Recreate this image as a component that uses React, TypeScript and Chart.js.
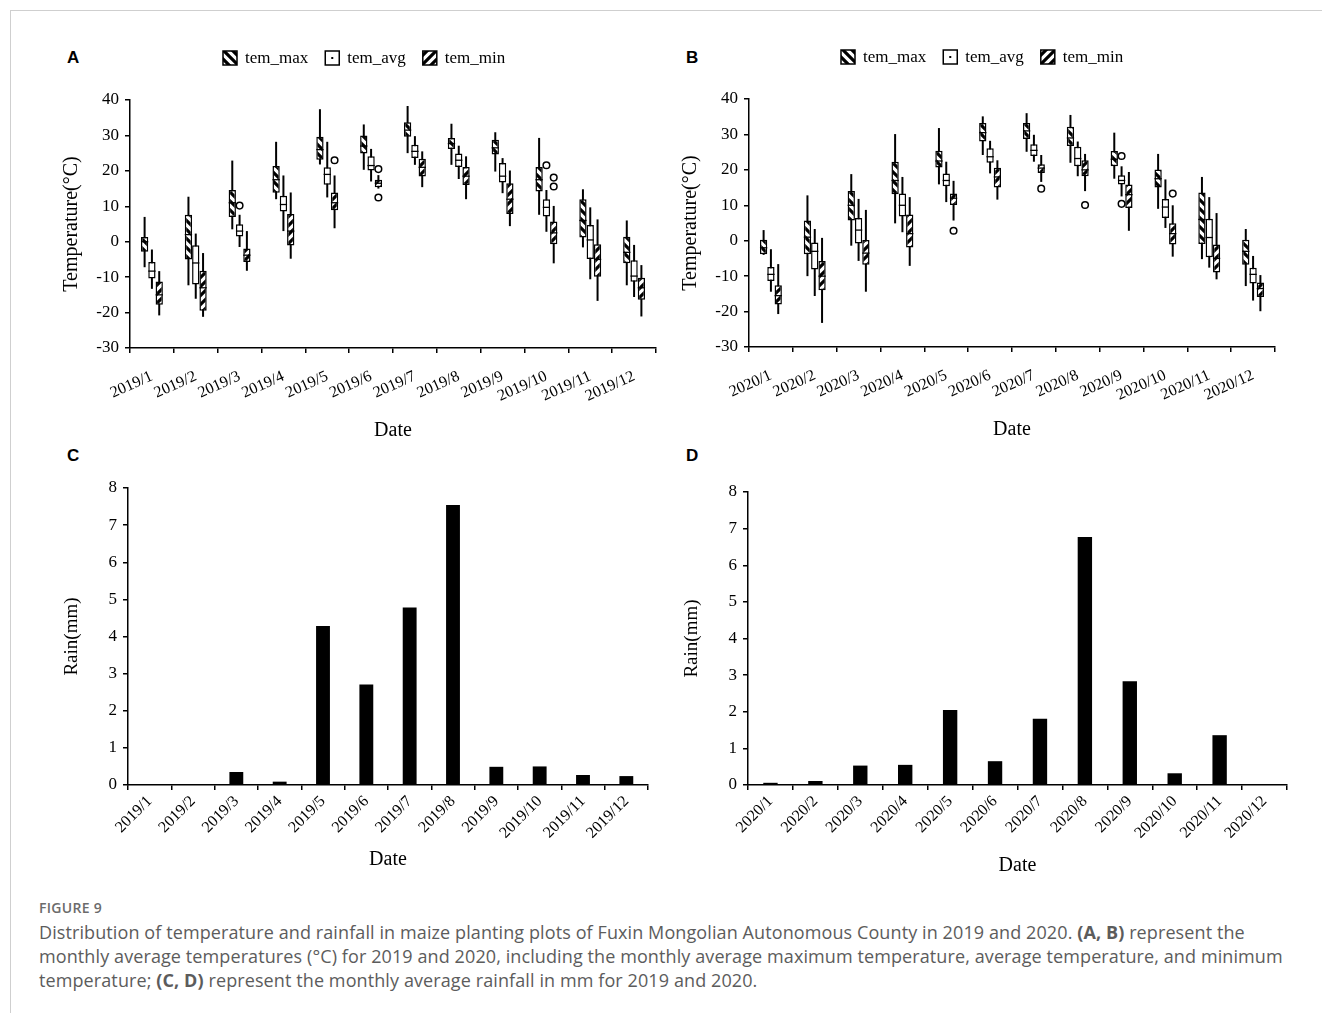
import React, { useEffect, useRef } from 'react';
import { Chart, registerables } from 'chart.js';

Chart.register(...registerables);

// ---------------- DATA ----------------
type Stat = [number, number, number, number, number]; // [whiskerLow, q1, median, q3, whiskerHigh]
type Outlier = [number, number]; // [monthIndex, value]

const months2019 = ['2019/1', '2019/2', '2019/3', '2019/4', '2019/5', '2019/6', '2019/7', '2019/8', '2019/9', '2019/10', '2019/11', '2019/12'];
const months2020 = ['2020/1', '2020/2', '2020/3', '2020/4', '2020/5', '2020/6', '2020/7', '2020/8', '2020/9', '2020/10', '2020/11', '2020/12'];
const seriesNames = ['tem_max', 'tem_avg', 'tem_min'];

const tmax2019: Stat[] = [
  [-7.2, -2.8, 0, 1.3, 7.0], [-12.3, -5.0, 2, 7.6, 12.7], [3.5, 7.0, 11, 14.6, 22.9], [12.0, 13.8, 17.5, 21.4, 28.2],
  [21.8, 23.1, 26, 29.6, 37.4], [20.3, 24.9, 27, 30.0, 33.1], [25.0, 29.6, 31.5, 33.7, 38.3], [21.7, 26.2, 27.7, 29.3, 33.3],
  [19.8, 24.6, 26.5, 28.8, 30.9], [7.6, 14.2, 17.5, 21.1, 29.3], [-1.6, 1.2, 6, 12.0, 14.8], [-12.3, -6.1, -3, 1.4, 6.0],
];
const tavg2019: Stat[] = [
  [-13.3, -10.4, -8.3, -5.7, -2.2], [-16.1, -12.1, -6, -1.0, 2.3], [-1.5, 1.5, 3, 4.9, 7.6], [3.0, 8.5, 10.5, 13.0, 18.7],
  [12.5, 16.1, 19, 21.0, 28.2], [17.0, 20.1, 21.5, 24.1, 26.2], [21.7, 23.6, 25.5, 27.4, 29.8], [17.7, 21.1, 23, 24.9, 27.1],
  [13.7, 16.7, 18.5, 22.2, 23.6], [2.8, 7.1, 9.7, 12.0, 14.6], [-10.6, -4.9, 0.5, 4.7, 9.7], [-15.6, -11.3, -9.7, -5.2, -0.9],
];
const tmin2019: Stat[] = [
  [-20.8, -17.8, -15, -11.2, -8.3], [-21.2, -19.5, -13, -8.2, -3.2], [-8.2, -5.7, -3.8, -1.9, 3.0], [-4.8, -1.1, 3, 7.8, 13.9],
  [3.8, 8.9, 11, 13.9, 18.7], [15.0, 15.4, 16.5, 17.5, 18.8], [15.4, 18.4, 21, 23.4, 25.5], [12.0, 16.0, 18.5, 21.1, 24.1],
  [4.4, 7.8, 12, 16.5, 20.1], [-6.1, -0.7, 2.5, 5.7, 10.1], [-16.7, -9.9, -5, -0.7, 6.3], [-21.1, -16.4, -13, -10.2, -6.6],
];
const outMax2019: Outlier[] = [];
const outAvg2019: Outlier[] = [[2, 10.2], [9, 21.6]];
const outMin2019: Outlier[] = [[4, 23.0], [5, 20.5], [5, 12.5], [9, 18.1], [9, 15.6]];

const tmax2020: Stat[] = [
  [-4.0, -3.8, -2, 0.3, 3.0], [-10.0, -3.8, 1, 5.7, 12.8], [-1.4, 5.7, 10, 14.0, 18.8], [4.9, 13.1, 17, 22.3, 30.1],
  [15.9, 20.7, 22.5, 25.4, 31.8], [24.2, 28.0, 30.5, 33.2, 35.1], [25.1, 28.7, 31, 33.2, 36.0], [22.0, 26.7, 29, 32.2, 35.5],
  [17.5, 21.0, 23, 25.3, 30.5], [9.0, 15.0, 17.5, 20.1, 24.5], [-5.2, -0.9, 6, 13.6, 18.0], [-12.8, -6.8, -3, 0.3, 3.3],
];
const tavg2020: Stat[] = [
  [-14.4, -11.4, -9.5, -7.4, -2.4], [-15.6, -8.1, -3, -0.5, 3.3], [-5.7, -0.8, 3, 6.4, 11.8], [2.4, 6.8, 10, 13.3, 18.0],
  [10.9, 15.4, 17, 19.0, 22.3], [19.0, 22.0, 23.7, 26.1, 28.2], [22.3, 23.9, 25.5, 27.2, 29.9], [18.2, 21.0, 23.2, 26.5, 28.0],
  [12.5, 15.9, 17, 18.5, 21.0], [3.6, 6.4, 9.5, 11.8, 17.3], [-7.6, -4.7, 0.9, 6.2, 12.3], [-16.9, -12.1, -9.5, -7.6, -4.3],
];
const tmin2020: Stat[] = [
  [-20.7, -18.0, -15.5, -12.6, -6.6], [-23.2, -14.0, -10, -5.7, 0.8], [-14.4, -6.8, -3.5, 0.2, 8.7], [-7.1, -1.9, 2, 7.4, 12.3],
  [5.7, 10.1, 12, 13.3, 16.9], [11.6, 15.0, 18, 20.6, 22.7], [16.6, 19.1, 20.5, 21.6, 24.2], [14.0, 18.2, 20, 22.7, 24.5],
  [2.8, 9.2, 13, 15.9, 19.4], [-4.5, -1.1, 2, 4.9, 10.0], [-10.9, -9.0, -5, -1.1, 7.8], [-19.9, -15.9, -13.5, -11.8, -9.7],
];
const outMax2020: Outlier[] = [];
const outAvg2020: Outlier[] = [[8, 23.9], [8, 10.4]];
const outMin2020: Outlier[] = [[4, 2.8], [6, 14.7], [7, 10.1], [9, 13.3]];

const rain2019 = [0, 0, 0.35, 0.09, 4.28, 2.71, 4.78, 7.54, 0.49, 0.5, 0.27, 0.24];
const rain2020 = [0.06, 0.11, 0.53, 0.55, 2.05, 0.65, 1.81, 6.77, 2.83, 0.32, 1.36, 0];

const tempTickRange = { min: -30, max: 40, step: 10 };
const rainTickRange = { min: 0, max: 8, step: 1 };

// ---------------- STYLE HELPERS ----------------
const SERIF = '"Liberation Serif", "Times New Roman", serif';

function makePattern(kind: 'back' | 'fwd' | 'none'): CanvasPattern | string {
  if (kind === 'none') return '#ffffff';
  const s = 9;
  const c = document.createElement('canvas');
  c.width = s;
  c.height = s;
  const g = c.getContext('2d')!;
  g.fillStyle = '#fff';
  g.fillRect(0, 0, s, s);
  g.strokeStyle = '#000';
  g.lineWidth = 3.2;
  g.beginPath();
  if (kind === 'back') {
    for (let k = -1; k <= 1; k++) {
      g.moveTo(-2 + k * s, -2);
      g.lineTo(s + 2 + k * s, s + 2);
    }
  } else {
    for (let k = -1; k <= 1; k++) {
      g.moveTo(-2 + k * s, s + 2);
      g.lineTo(s + 2 + k * s, -2);
    }
  }
  g.stroke();
  return g.createPattern(c, 'repeat')!;
}

const boxPlugin = {
  id: 'boxExtras',
  beforeDatasetsDraw(chart: any) {
    const ctx = chart.ctx;
    const y = chart.scales.y;
    ctx.save();
    ctx.strokeStyle = '#000';
    ctx.lineWidth = 2;
    chart.data.datasets.forEach((ds: any, i: number) => {
      if (!ds.stats) return;
      const meta = chart.getDatasetMeta(i);
      ds.stats.forEach((st: Stat, j: number) => {
        const el = meta.data[j];
        if (!el) return;
        ctx.beginPath();
        ctx.moveTo(el.x, y.getPixelForValue(st[0]));
        ctx.lineTo(el.x, y.getPixelForValue(st[4]));
        ctx.stroke();
      });
    });
    ctx.restore();
  },
  afterDatasetsDraw(chart: any) {
    const ctx = chart.ctx;
    const y = chart.scales.y;
    ctx.save();
    chart.data.datasets.forEach((ds: any, i: number) => {
      if (!ds.stats) return;
      const meta = chart.getDatasetMeta(i);
      ds.stats.forEach((st: Stat, j: number) => {
        const el = meta.data[j];
        if (!el) return;
        const py = y.getPixelForValue(st[2]);
        ctx.strokeStyle = '#000';
        ctx.lineWidth = 1.3;
        ctx.beginPath();
        ctx.moveTo(el.x - el.width / 2, py);
        ctx.lineTo(el.x + el.width / 2, py);
        ctx.stroke();
      });
      (ds.outliers || []).forEach((o: Outlier) => {
        const el = meta.data[o[0]];
        if (!el) return;
        ctx.beginPath();
        ctx.arc(el.x, y.getPixelForValue(o[1]), 3.3, 0, Math.PI * 2);
        ctx.fillStyle = '#fff';
        ctx.fill();
        ctx.strokeStyle = '#000';
        ctx.lineWidth = 1.5;
        ctx.stroke();
      });
    });
    ctx.restore();
  },
};

const legendPlugin = {
  id: 'boxLegend',
  afterDraw(chart: any, _args: any, opts: any) {
    if (!opts || !opts.show) return;
    const ctx = chart.ctx;
    let x = chart.chartArea.left + opts.offsetX;
    const yc = chart.chartArea.top + opts.offsetY;
    ctx.save();
    ctx.font = `17px ${SERIF}`;
    ctx.textBaseline = 'middle';
    ctx.textAlign = 'left';
    chart.data.datasets.forEach((ds: any, i: number) => {
      const sz = 14;
      ctx.fillStyle = ds.backgroundColor;
      ctx.fillRect(x, yc - sz / 2, sz, sz);
      ctx.strokeStyle = '#000';
      ctx.lineWidth = 1.5;
      ctx.strokeRect(x, yc - sz / 2, sz, sz);
      if (i === 1) {
        ctx.fillStyle = '#000';
        ctx.fillRect(x + sz / 2 - 1, yc - 1, 2, 2);
      }
      ctx.fillStyle = '#000';
      ctx.fillText(ds.label, x + 22, yc + 1);
      x += 22 + ctx.measureText(ds.label).width + 17;
    });
    ctx.restore();
  },
};

function axisCommon(fontSize: number) {
  return {
    grid: { display: true, drawOnChartArea: false, drawTicks: true, tickLength: 5, color: '#000', lineWidth: 1.5 },
    border: { display: true, color: '#000', width: 1.5 },
    ticks: { color: '#000', font: { family: SERIF, size: fontSize } },
  };
}

function tempConfig(labels: string[], stats: Stat[][], outs: Outlier[][], legendOffsetX: number): any {
  const fills = [makePattern('back'), makePattern('none'), makePattern('fwd')];
  const xc = axisCommon(16);
  const yc = axisCommon(17);
  return {
    type: 'bar',
    data: {
      labels,
      datasets: seriesNames.map((name, i) => ({
        label: name,
        data: stats[i].map((s) => [s[1], s[3]]),
        stats: stats[i],
        outliers: outs[i],
        backgroundColor: fills[i],
        borderColor: '#000',
        borderWidth: 1.5,
        borderSkipped: false,
        categoryPercentage: 0.5,
        barPercentage: 1,
      })),
    },
    plugins: [boxPlugin, legendPlugin],
    options: {
      animation: false,
      responsive: false,
      maintainAspectRatio: false,
      devicePixelRatio: 1,
      layout: { padding: { top: 60, right: 24, left: 0, bottom: 0 } },
      plugins: {
        legend: { display: false },
        tooltip: { enabled: false },
        boxLegend: { show: true, offsetX: legendOffsetX, offsetY: -42 },
      },
      scales: {
        x: {
          type: 'category',
          ...xc,
          grid: { ...xc.grid, offset: true },
          ticks: { ...xc.ticks, minRotation: 24, maxRotation: 24, autoSkip: false, padding: 14 },
          title: { display: true, text: 'Date', color: '#000', font: { family: SERIF, size: 20 }, padding: { top: 4, bottom: 4 } },
          afterFit: (s: any) => { s.height = 99; },
        },
        y: {
          type: 'linear',
          min: tempTickRange.min,
          max: tempTickRange.max,
          ...yc,
          ticks: { ...yc.ticks, stepSize: tempTickRange.step, padding: 6 },
          title: { display: true, text: 'Temperature(°C)', color: '#000', font: { family: SERIF, size: 20 }, padding: { top: 0, bottom: 0 } },
          afterFit: (s: any) => { s.width = 70; },
        },
      },
    },
  };
}

function rainConfig(labels: string[], values: number[], xHeight: number): any {
  const xc = axisCommon(16);
  const yc = axisCommon(17);
  return {
    type: 'bar',
    data: {
      labels,
      datasets: [{
        label: 'Rain',
        data: values,
        backgroundColor: '#000',
        borderWidth: 0,
        categoryPercentage: 1,
        barPercentage: 0.32,
      }],
    },
    options: {
      animation: false,
      responsive: false,
      maintainAspectRatio: false,
      devicePixelRatio: 1,
      layout: { padding: { top: 60, right: 24, left: 0, bottom: 0 } },
      plugins: { legend: { display: false }, tooltip: { enabled: false } },
      scales: {
        x: {
          type: 'category',
          ...xc,
          grid: { ...xc.grid, offset: true },
          ticks: { ...xc.ticks, minRotation: 45, maxRotation: 45, autoSkip: false, padding: 2 },
          title: { display: true, text: 'Date', color: '#000', font: { family: SERIF, size: 20 }, padding: { top: 4, bottom: 4 } },
          afterFit: (s: any) => { s.height = xHeight; },
        },
        y: {
          type: 'linear',
          min: rainTickRange.min,
          max: rainTickRange.max,
          ...yc,
          ticks: { ...yc.ticks, stepSize: rainTickRange.step, padding: 6 },
          title: { display: true, text: 'Rain(mm)', color: '#000', font: { family: SERIF, size: 19 }, padding: { top: 3, bottom: 0 } },
          afterFit: (s: any) => { s.width = 70; },
        },
      },
    },
  };
}

function ChartBox(props: { left: number; top: number; width: number; height: number; build: () => any }) {
  const ref = useRef<HTMLCanvasElement>(null);
  useEffect(() => {
    const chart = new Chart(ref.current!, props.build());
    return () => chart.destroy();
  }, []);
  return (
    <canvas
      ref={ref}
      width={props.width}
      height={props.height}
      style={{ position: 'absolute', left: props.left, top: props.top, width: props.width, height: props.height }}
    />
  );
}

const letterStyle: React.CSSProperties = {
  position: 'absolute',
  fontFamily: '"Liberation Sans", Arial, sans-serif',
  fontWeight: 'bold',
  fontSize: 17,
  lineHeight: '17px',
  color: '#000',
};

export default function App() {
  return (
    <div style={{ position: 'absolute', left: 0, top: 0, width: 1322, height: 1013, overflow: 'hidden', background: '#fff' }}>
      <div style={{ position: 'absolute', left: 10, top: 10, width: 1400, height: 1100, borderTop: '1px solid #cfcfcf', borderLeft: '1px solid #cfcfcf' }} />
      <div style={{ ...letterStyle, left: 67, top: 49 }}>A</div>
      <div style={{ ...letterStyle, left: 686, top: 49 }}>B</div>
      <div style={{ ...letterStyle, left: 67, top: 447 }}>C</div>
      <div style={{ ...letterStyle, left: 686, top: 447 }}>D</div>

      <ChartBox left={60} top={40} width={620} height={407}
        build={() => tempConfig(months2019, [tmax2019, tavg2019, tmin2019], [outMax2019, outAvg2019, outMin2019], 93)} />
      <ChartBox left={679} top={39} width={620} height={407}
        build={() => tempConfig(months2020, [tmax2020, tavg2020, tmin2020], [outMax2020, outAvg2020, outMin2020], 92)} />
      <ChartBox left={58} top={428} width={614} height={448}
        build={() => rainConfig(months2019, rain2019, 91)} />
      <ChartBox left={678} top={432} width={633} height={450}
        build={() => rainConfig(months2020, rain2020, 97)} />

      <div style={{ position: 'absolute', left: 39, top: 899, fontFamily: '"Open Sans", sans-serif', fontWeight: 600, fontSize: 14, letterSpacing: 0.3, color: '#6b6b6b', lineHeight: '18px' }}>
        FIGURE 9
      </div>
      <div style={{ position: 'absolute', left: 39, top: 920, fontFamily: '"Open Sans", sans-serif', fontSize: 18, letterSpacing: 0.1, lineHeight: '24px', color: '#5c5c5c', whiteSpace: 'nowrap' }}>
        Distribution of temperature and rainfall in maize planting plots of Fuxin Mongolian Autonomous County in 2019 and 2020. <b>(A, B)</b> represent the
        <br />
        monthly average temperatures (°C) for 2019 and 2020, including the monthly average maximum temperature, average temperature, and minimum
        <br />
        temperature; <b>(C, D)</b> represent the monthly average rainfall in mm for 2019 and 2020.
      </div>
    </div>
  );
}
